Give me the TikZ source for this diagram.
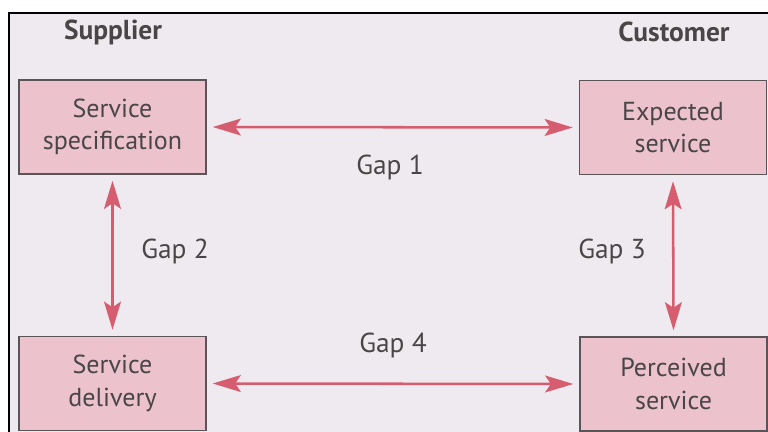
\documentclass[tikz,border=0pt]{standalone}
\usepackage{fontspec}
\setmainfont{PT Sans}
\usepackage{tikz}
\usetikzlibrary{arrows.meta}
\definecolor{framebg}{HTML}{EEEAEF}
\definecolor{boxfill}{HTML}{ECC2CD}
\definecolor{boxline}{HTML}{5A5458}
\definecolor{gapcolor}{HTML}{D65D70}
\definecolor{textgrey}{HTML}{4A4648}

\begin{document}
\begin{tikzpicture}[x=0.025cm,y=-0.025cm,
  gapbox/.style={draw=boxline, line width=1pt, fill=boxfill, text=textgrey,
    minimum width=4.675cm, minimum height=2.35cm, align=center,
    font=\fontsize{18.5}{23}\selectfont},
  gaparrow/.style={draw=gapcolor, line width=1.8pt,
    {Stealth[length=20pt,width=12pt,inset=4pt]}-{Stealth[length=20pt,width=12pt,inset=4pt]},
    shorten <=0.15cm, shorten >=0.15cm},
  gaplabel/.style={text=textgrey, font=\fontsize{19.5}{23}\selectfont},
  sidelabel/.style={text=textgrey, font=\fontsize{19.5}{23}\selectfont\bfseries}]
  \useasboundingbox (0,0) rectangle (768,432);
  \fill[white] (0,0) rectangle (768,432);
  \fill[framebg] (9,13) rectangle (768,432);
  \draw[black, line width=1.2pt] (9,432) -- (9,13) -- (768,13);
  %% the two sides
  \node[sidelabel] (supplier) at (113,32) {Supplier};
  \node[sidelabel] (customer) at (674,32) {Customer};
  %% the four boxes
  \node[gapbox] (spec)  at (112.5,127)   {Service\\specification};
  \node[gapbox] (exp)   at (673,127.5)   {Expected\\service};
  \node[gapbox] (deliv) at (112.5,383.5) {Service\\delivery};
  \node[gapbox] (perc)  at (673.5,384)   {Perceived\\service};
  %% the gaps
  \draw[gaparrow] (spec.east) -- (exp.west);
  \draw[gaparrow] (spec.south) -- (deliv.north);
  \draw[gaparrow] (exp.south) -- (perc.north);
  \draw[gaparrow] (deliv.east) -- (perc.west);
  \node[gaplabel] (gapone)   at (390,167) {Gap 1};
  \node[gaplabel] (gaptwo)   at (175,251) {Gap 2};
  \node[gaplabel] (gapthree) at (612,251) {Gap 3};
  \node[gaplabel] (gapfour)  at (393,345) {Gap 4};
\end{tikzpicture}
\end{document}
